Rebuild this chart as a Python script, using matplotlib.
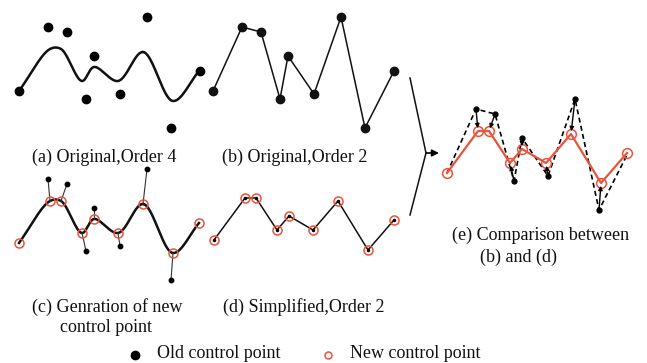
import numpy as np
import matplotlib.pyplot as plt

# control points, read in the frame of panel (a), pixel units (y down)
old_x = [19, 48, 67, 86, 94, 120, 147, 171, 200]
old_y = [91, 27, 32, 99, 56, 94, 17, 128, 71]

new_x = [19, 50, 61, 82, 94, 118, 143, 173, 199]
new_y = [91, 49, 49, 81, 67, 81, 52, 101, 71]

# where each panel sits on the page
off_a = (0, 0)
off_b = (194, 0)
off_c = (0, 152)
off_d = (195, 149)
off_e = (428, 82)

labels = {
    "a": ("(a) Original,Order 4", 104, 157),
    "b": ("(b) Original,Order 2", 295, 157),
    "c1": ("(c) Genration of new", 107, 307),
    "c2": ("control point", 106, 328),
    "d": ("(d) Simplified,Order 2", 304, 307),
    "e1": ("(e) Comparison between", 541, 235),
    "e2": ("(b) and (d)", 519, 257),
}

red = "#e8543c"
font = "Liberation Serif"


def smooth(px, py, n=40):
    # centripetal catmull-rom through the points
    P = np.column_stack([px, py]).astype(float)
    P = np.vstack([2 * P[0] - P[1], P, 2 * P[-1] - P[-2]])
    xs, ys = [], []
    for i in range(1, len(P) - 2):
        p0, p1, p2, p3 = P[i - 1], P[i], P[i + 1], P[i + 2]
        t0 = 0.0
        t1 = t0 + np.linalg.norm(p1 - p0) ** 0.5
        t2 = t1 + np.linalg.norm(p2 - p1) ** 0.5
        t3 = t2 + np.linalg.norm(p3 - p2) ** 0.5
        t = np.linspace(t1, t2, n)[:, None]
        a1 = (t1 - t) / (t1 - t0) * p0 + (t - t0) / (t1 - t0) * p1
        a2 = (t2 - t) / (t2 - t1) * p1 + (t - t1) / (t2 - t1) * p2
        a3 = (t3 - t) / (t3 - t2) * p2 + (t - t2) / (t3 - t2) * p3
        b1 = (t2 - t) / (t2 - t0) * a1 + (t - t0) / (t2 - t0) * a2
        b2 = (t3 - t) / (t3 - t1) * a2 + (t - t1) / (t3 - t1) * a3
        c = (t2 - t) / (t2 - t1) * b1 + (t - t1) / (t2 - t1) * b2
        xs.append(c[:, 0])
        ys.append(c[:, 1])
    return np.concatenate(xs), np.concatenate(ys)


def sh(xs, ys, off):
    return np.array(xs) + off[0], np.array(ys) + off[1]


fig = plt.figure(figsize=(6.47, 3.63), dpi=100)
ax = fig.add_axes([0, 0, 1, 1])
ax.set_xlim(0, 647)
ax.set_ylim(363, 0)
ax.axis("off")

cx, cy = smooth(new_x, new_y)

# (a)
x, y = sh(cx, cy, off_a)
ax.plot(x, y, color="#111111", lw=1.8, solid_capstyle="round")
x, y = sh(old_x, old_y, off_a)
ax.plot(x, y, "o", color="black", ms=6, ls="none")

# (b)
x, y = sh(old_x, old_y, off_b)
ax.plot(x, y, "-o", color="#111111", lw=1.1, ms=6)

# (c)
x, y = sh(cx, cy, off_c)
ax.plot(x, y, color="#111111", lw=1.8)
ox, oy = sh(old_x, old_y, off_c)
nx_, ny_ = sh(new_x, new_y, off_c)
for i in range(1, len(old_x) - 1):
    ax.plot([ox[i], nx_[i]], [oy[i], ny_[i]], color="#333333", lw=0.8)
ax.plot(ox[1:-1], oy[1:-1], "o", color="black", ms=3.2, ls="none")
ax.plot(nx_, ny_, "o", mfc="none", mec=red, mew=1.1, ms=6.5, ls="none")

# (d)
x, y = sh(new_x, new_y, off_d)
ax.plot(x, y, "-", color="#111111", lw=1.1)
ax.plot(x, y, "o", color="black", ms=1.5, ls="none")
ax.plot(x, y, "o", mfc="none", mec=red, mew=1.1, ms=6.5, ls="none")

# (e)
ox, oy = sh(old_x, old_y, off_e)
nx_, ny_ = sh(new_x, new_y, off_e)
ax.plot(ox, oy, color="black", lw=1.2, ls=(0, (3, 2)))
ax.plot(ox[1:-1], oy[1:-1], "o", color="black", ms=3.5, ls="none")
for i in range(1, len(old_x) - 1):
    ax.annotate("", xy=(nx_[i], ny_[i]), xytext=(ox[i], oy[i]),
                arrowprops=dict(arrowstyle="-|>", color="black", lw=1.0,
                                mutation_scale=6, shrinkA=0, shrinkB=2))
ax.plot(nx_, ny_, "-", color=red, lw=1.6)
ax.plot(nx_, ny_, "o", mfc="none", mec=red, mew=1.1, ms=7, ls="none")

# big bracket arrow
ax.plot([410, 426, 410], [78, 153, 215], color="#111111", lw=1.1)
ax.annotate("", xy=(439, 153), xytext=(426, 153),
            arrowprops=dict(arrowstyle="-|>", color="black", lw=1.2,
                            mutation_scale=10, shrinkA=0, shrinkB=0))

for key, (txt, tx, ty) in labels.items():
    ax.text(tx, ty, txt, fontsize=13, family=font, ha="center", va="center",
            color="#111111")

# legend
ax.plot([135], [355], "o", color="black", ms=6)
ax.text(157, 354, "Old control point", fontsize=13, family=font, va="center",
        color="#111111")
ax.plot([328], [355], "o", mfc="none", mec=red, mew=1.1, ms=5)
ax.text(350, 354, "New control point", fontsize=13, family=font, va="center",
        color="#111111")

fig.savefig("out.png", dpi=100)
